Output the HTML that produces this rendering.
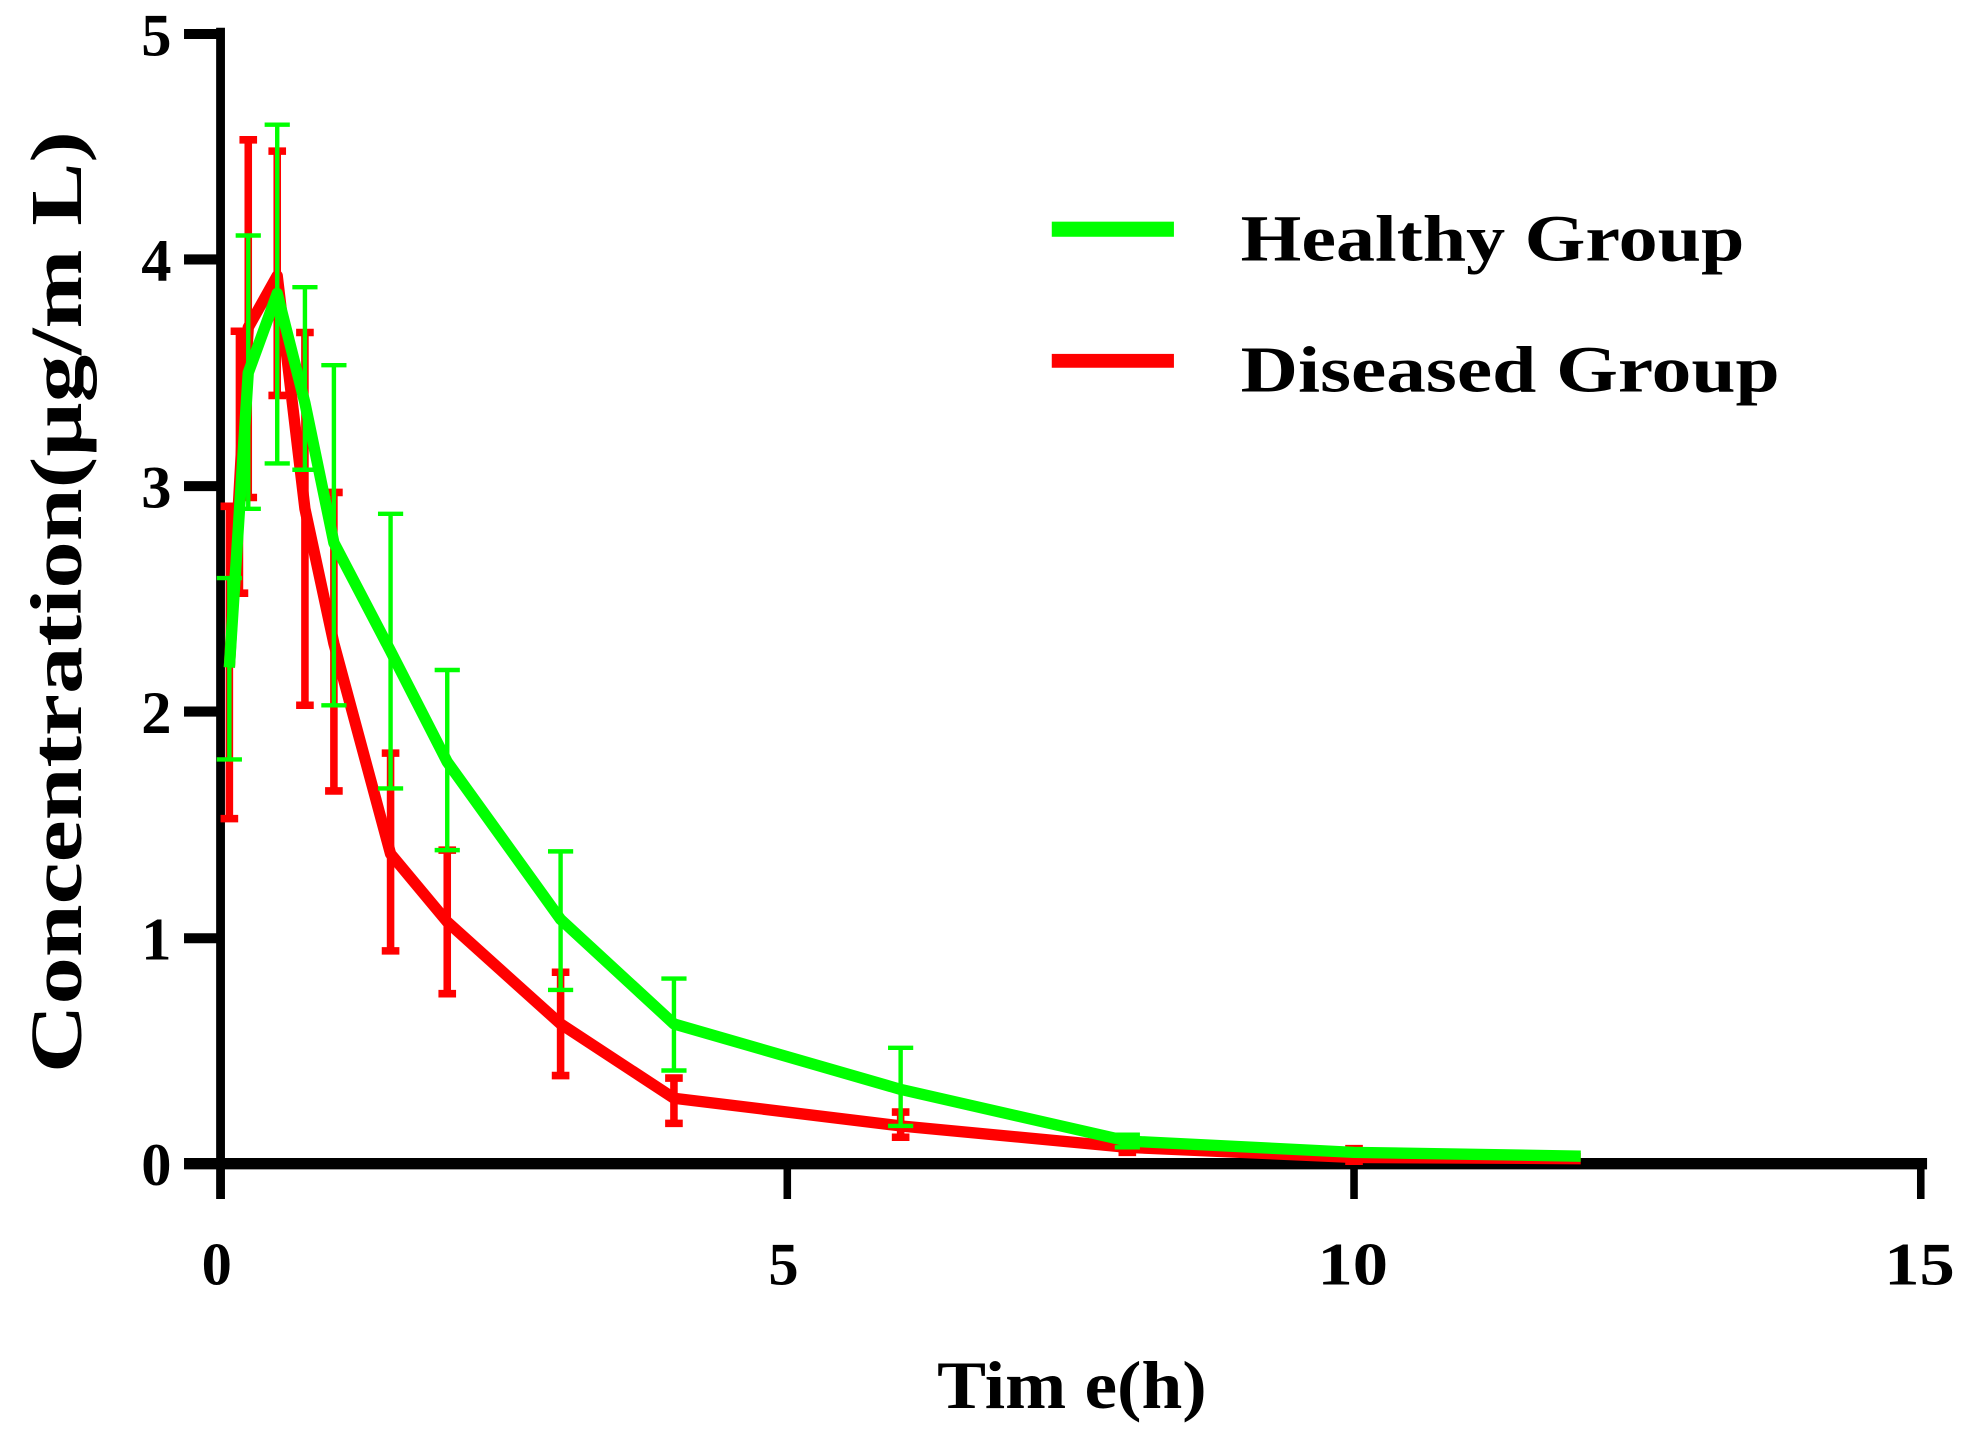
<!DOCTYPE html>
<html><head><meta charset="utf-8"><style>html,body{margin:0;padding:0;background:#fff}svg{display:block}</style></head>
<body>
<svg width="1965" height="1437" viewBox="0 0 1560 1141" xmlns="http://www.w3.org/2000/svg" font-family="Liberation Serif, serif" font-weight="bold">
<rect width="1560" height="1141" fill="#fff"/>
<g stroke="#000" fill="none">
<line x1="175" y1="22" x2="175" y2="952" stroke-width="7"/>
<line x1="146" y1="924" x2="1530" y2="924" stroke-width="9"/>
<g stroke-width="8">
<line x1="146" y1="27" x2="175" y2="27"/><line x1="146" y1="206" x2="175" y2="206"/>
<line x1="146" y1="386" x2="175" y2="386"/><line x1="146" y1="565" x2="175" y2="565"/>
<line x1="146" y1="745" x2="175" y2="745"/>
</g>
<g stroke-width="6">
<line x1="625" y1="924" x2="625" y2="952"/><line x1="1075" y1="924" x2="1075" y2="952"/><line x1="1525" y1="924" x2="1525" y2="952"/>
</g>
</g>
<g font-size="48">
<text x="112" y="44" textLength="24" lengthAdjust="spacingAndGlyphs">5</text>
<text x="112" y="223" textLength="24" lengthAdjust="spacingAndGlyphs">4</text>
<text x="112" y="403" textLength="24" lengthAdjust="spacingAndGlyphs">3</text>
<text x="112" y="582" textLength="24" lengthAdjust="spacingAndGlyphs">2</text>
<text x="112" y="762" textLength="24" lengthAdjust="spacingAndGlyphs">1</text>
<text x="112" y="941" textLength="24" lengthAdjust="spacingAndGlyphs">0</text>
<text x="160" y="1020" textLength="24" lengthAdjust="spacingAndGlyphs">0</text>
<text x="610" y="1020" textLength="24" lengthAdjust="spacingAndGlyphs">5</text>
<text x="1046" y="1020" textLength="56" lengthAdjust="spacingAndGlyphs">10</text>
<text x="1496" y="1020" textLength="56" lengthAdjust="spacingAndGlyphs">15</text>
</g>
<text x="744" y="1118" font-size="54" textLength="214" lengthAdjust="spacingAndGlyphs">Tim e(h)</text>
<text transform="translate(64,852) rotate(-90)" font-size="58" textLength="748" lengthAdjust="spacingAndGlyphs">Concentration(µg/m L)</text>
<rect x="835" y="176" width="97" height="12" fill="#00ff00"/>
<rect x="835" y="281" width="97" height="11" fill="#ff0000"/>
<text x="985" y="207" font-size="52" textLength="400" lengthAdjust="spacingAndGlyphs">Healthy Group</text>
<text x="985" y="311" font-size="52" textLength="428" lengthAdjust="spacingAndGlyphs">Diseased Group</text>
<g stroke="#ff0000" stroke-width="6" fill="none">
<path d="M182 650V402M175 650h14M175 402h14"/>
<path d="M190 471V263M183 263h14M183 471h14"/>
<path d="M197 395V111M190 111h14M190 395h14"/>
<path d="M220 314V120M213 120h14M213 314h14"/>
<path d="M242 560V264M235 264h14M235 560h14"/>
<path d="M265 628V391M258 391h14M258 628h14"/>
<path d="M310 755V598M303 598h14M303 755h14"/>
<path d="M355 789V675M348 675h14M348 789h14"/>
<path d="M445 854V772M438 772h14M438 854h14"/>
<path d="M535 892V856M528 856h14M528 892h14"/>
<path d="M715 903V883M708 883h14M708 903h14"/>
<path d="M895 915V906M888 906h14M888 915h14"/>
<path d="M1075 922V912M1068 912h14M1068 922h14"/>
</g>
<polyline fill="none" stroke="#ff0000" stroke-width="9" stroke-linejoin="round" points="182,530 197,260 220,219 242,404 265,511 310,678 355,732 445,813 535,872 715,894 895,911 1075,919 1255,920"/>
<g stroke="#00ff00" stroke-width="3.5" fill="none">
<path d="M182 603V459M172 459h20M172 603h20"/>
<path d="M197 404V187M187 187h20M187 404h20"/>
<path d="M220 368V99M210 99h20M210 368h20"/>
<path d="M242 373V228M232 228h20M232 373h20"/>
<path d="M265 560V290M255 290h20M255 560h20"/>
<path d="M310 626V408M300 408h20M300 626h20"/>
<path d="M355 675V532M345 532h20M345 675h20"/>
<path d="M445 786V676M435 676h20M435 786h20"/>
<path d="M535 850V777M525 777h20M525 850h20"/>
<path d="M715 894V832M705 832h20M705 894h20"/>
<path d="M895 911V901M885 901h20M885 911h20"/>
</g>
<polyline fill="none" stroke="#00ff00" stroke-width="9" stroke-linejoin="round" points="182,530 197,296 220,233 242,320 265,431 310,517 355,605 445,730 535,813 715,865 895,906 1075,915 1255,918"/>
</svg>
</body></html>
